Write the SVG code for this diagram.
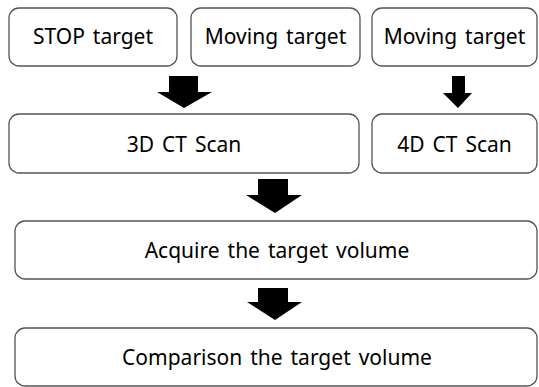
<svg xmlns="http://www.w3.org/2000/svg" width="539" height="387" viewBox="0 0 539 387">
<style>
.box{fill:#fff;stroke:#555;stroke-width:1.3}
.lbl{font-family:"Noto Sans","Open Sans",sans-serif;font-size:21px;fill:#000;text-anchor:middle;word-spacing:2.5px}
.arr{fill:#000}
</style>
<rect width="539" height="387" fill="#fff"/>
<g id="stop-target"><rect class="box" x="9" y="8" width="168" height="58" rx="10"/><text class="lbl" x="93" y="44">STOP target</text></g>
<g id="moving-target-1"><rect class="box" x="191" y="8" width="169" height="58" rx="10"/><text class="lbl" x="275.5" y="44">Moving target</text></g>
<g id="moving-target-2"><rect class="box" x="372" y="8" width="165" height="58" rx="10"/><text class="lbl" x="454.5" y="44">Moving target</text></g>
<g id="ct3d"><rect class="box" x="9" y="114" width="350" height="59" rx="10"/><text class="lbl" x="184" y="152">3D CT Scan</text></g>
<g id="ct4d"><rect class="box" x="372" y="114" width="165" height="59" rx="10"/><text class="lbl" x="454.5" y="152">4D CT Scan</text></g>
<g id="acquire"><rect class="box" x="15" y="221" width="522" height="58" rx="10"/><text class="lbl" x="277" y="258">Acquire the target volume</text></g>
<g id="comparison"><rect class="box" x="15" y="328" width="522" height="58" rx="10"/><text class="lbl" x="277" y="365">Comparison the target volume</text></g>
<g id="connectors">
<polygon class="arr" points="169,76 198,76 198,92 212,92 184,108 157,92 169,92"/>
<polygon class="arr" points="452,76 465,76 465,93 472,93 458,108 443,93 452,93"/>
<polygon class="arr" points="258,179 288,179 288,195 302,195 275,213 246,195 258,195"/>
<polygon class="arr" points="258,288 288,288 288,302 302,302 275,320 247,302 258,302"/>
</g>
</svg>
